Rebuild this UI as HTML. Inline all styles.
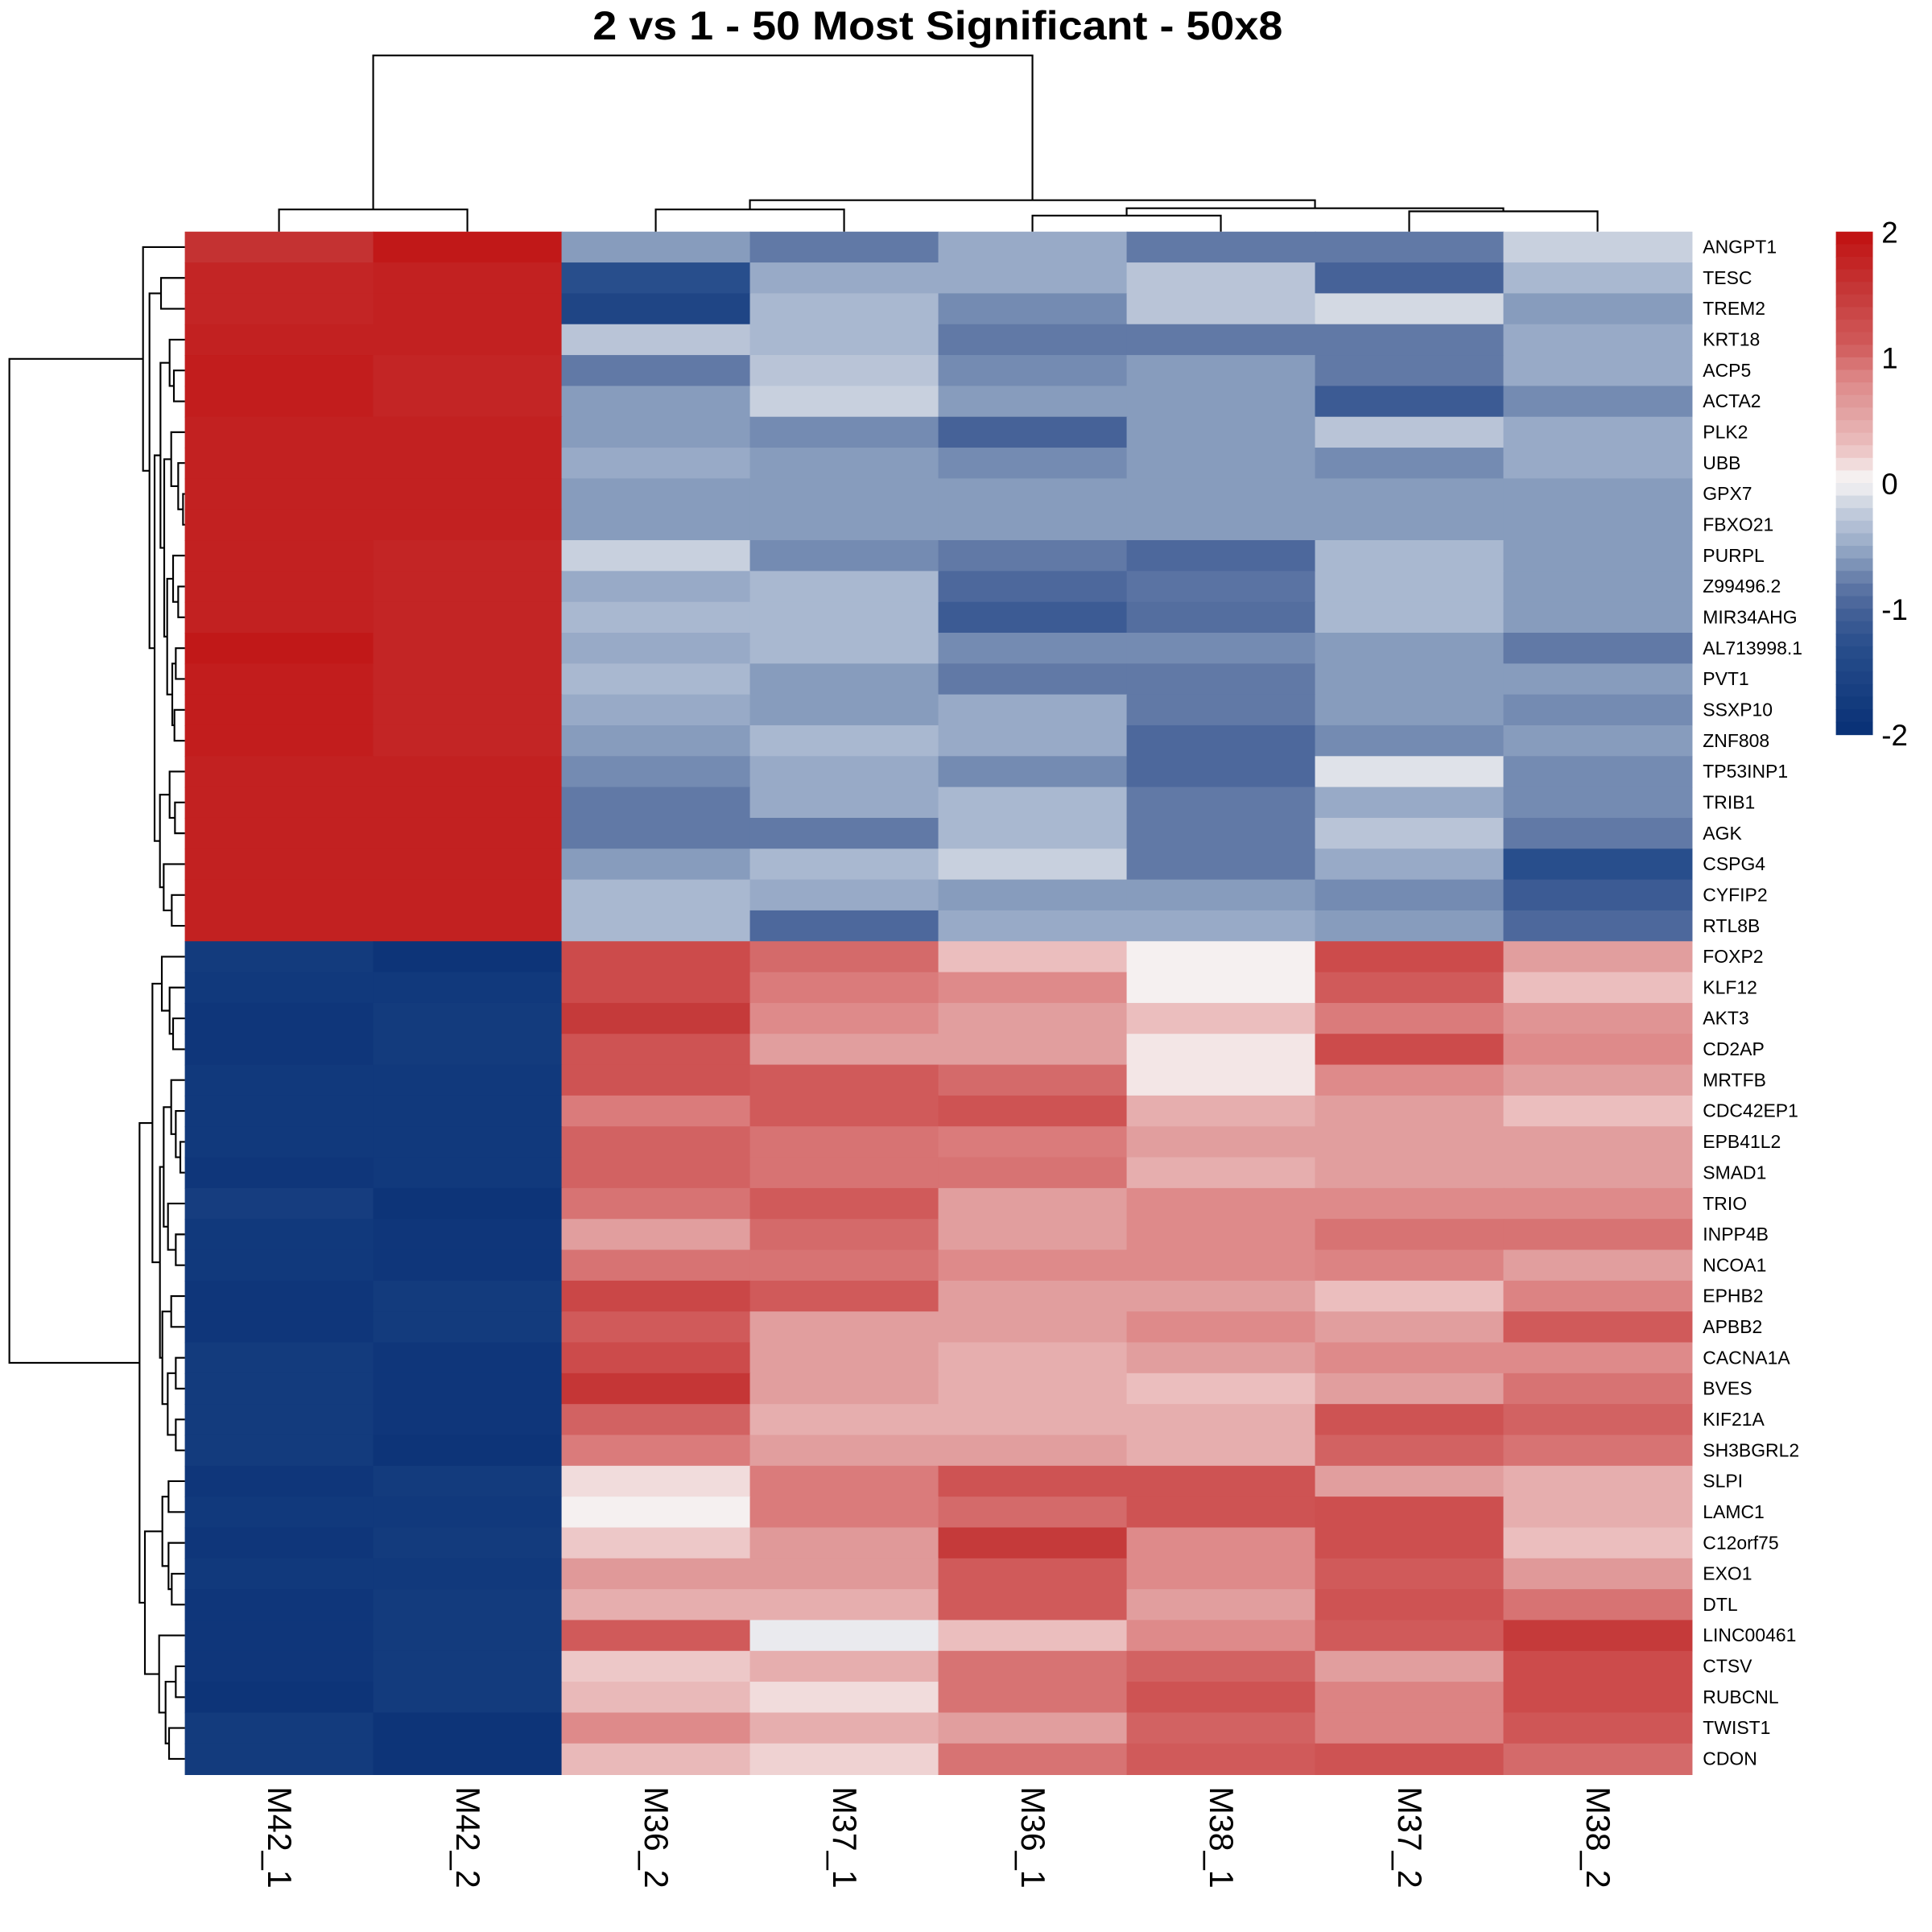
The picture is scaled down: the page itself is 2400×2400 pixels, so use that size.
<!DOCTYPE html>
<html><head><meta charset="utf-8">
<style>html,body{margin:0;padding:0;background:#fff}svg{display:block}</style>
</head><body>
<svg id="s" width="2400" height="2400" viewBox="0 0 1568 1568" xmlns="http://www.w3.org/2000/svg" font-family="Liberation Sans, Arial, sans-serif"></svg>
<script>
const rows=[
["ANGPT1",1.6,1.9,-0.6,-0.8,-0.5,-0.8,-0.8,-0.2],
["TESC",1.75,1.8,-1.3,-0.5,-0.5,-0.3,-1.0,-0.4],
["TREM2",1.75,1.8,-1.5,-0.4,-0.7,-0.3,-0.15,-0.6],
["KRT18",1.8,1.8,-0.3,-0.4,-0.8,-0.8,-0.8,-0.5],
["ACP5",1.85,1.75,-0.8,-0.3,-0.7,-0.6,-0.8,-0.5],
["ACTA2",1.85,1.75,-0.6,-0.2,-0.6,-0.6,-1.1,-0.7],
["PLK2",1.8,1.8,-0.6,-0.7,-1.0,-0.6,-0.3,-0.5],
["UBB",1.8,1.8,-0.5,-0.6,-0.7,-0.6,-0.7,-0.5],
["GPX7",1.8,1.8,-0.6,-0.6,-0.6,-0.6,-0.6,-0.6],
["FBXO21",1.8,1.8,-0.6,-0.6,-0.6,-0.6,-0.6,-0.6],
["PURPL",1.8,1.75,-0.2,-0.7,-0.8,-0.95,-0.4,-0.6],
["Z99496.2",1.8,1.75,-0.5,-0.4,-0.95,-0.85,-0.4,-0.6],
["MIR34AHG",1.8,1.75,-0.4,-0.4,-1.1,-0.9,-0.4,-0.6],
["AL713998.1",1.9,1.75,-0.5,-0.4,-0.7,-0.7,-0.6,-0.8],
["PVT1",1.85,1.75,-0.4,-0.6,-0.8,-0.8,-0.6,-0.6],
["SSXP10",1.85,1.75,-0.5,-0.6,-0.5,-0.8,-0.6,-0.7],
["ZNF808",1.85,1.75,-0.6,-0.4,-0.5,-0.95,-0.7,-0.6],
["TP53INP1",1.8,1.8,-0.7,-0.5,-0.7,-0.95,-0.1,-0.7],
["TRIB1",1.8,1.8,-0.8,-0.5,-0.4,-0.8,-0.5,-0.7],
["AGK",1.8,1.8,-0.8,-0.8,-0.4,-0.8,-0.3,-0.8],
["CSPG4",1.8,1.8,-0.6,-0.4,-0.2,-0.8,-0.5,-1.3],
["CYFIP2",1.8,1.8,-0.4,-0.5,-0.6,-0.6,-0.7,-1.1],
["RTL8B",1.8,1.8,-0.4,-0.95,-0.5,-0.5,-0.6,-0.95],
["FOXP2",-1.75,-1.9,1.3,1.0,0.3,0.05,1.3,0.6],
["KLF12",-1.8,-1.8,1.3,0.9,0.8,0.05,1.1,0.3],
["AKT3",-1.85,-1.75,1.5,0.8,0.6,0.3,0.9,0.7],
["CD2AP",-1.85,-1.75,1.2,0.6,0.6,0.1,1.3,0.8],
["MRTFB",-1.8,-1.8,1.2,1.1,1.0,0.1,0.8,0.6],
["CDC42EP1",-1.8,-1.8,0.9,1.1,1.2,0.45,0.6,0.3],
["EPB41L2",-1.8,-1.8,1.05,0.95,0.9,0.6,0.6,0.6],
["SMAD1",-1.85,-1.8,1.05,0.95,0.95,0.45,0.6,0.6],
["TRIO",-1.7,-1.9,0.95,1.1,0.6,0.8,0.8,0.8],
["INPP4B",-1.8,-1.85,0.6,1.0,0.6,0.8,0.95,0.95],
["NCOA1",-1.8,-1.85,0.95,0.95,0.8,0.8,0.85,0.6],
["EPHB2",-1.85,-1.75,1.35,1.1,0.6,0.6,0.3,0.85],
["APBB2",-1.85,-1.75,1.1,0.6,0.6,0.8,0.6,1.1],
["CACNA1A",-1.75,-1.85,1.3,0.6,0.45,0.6,0.8,0.8],
["BVES",-1.75,-1.85,1.55,0.6,0.45,0.3,0.6,0.95],
["KIF21A",-1.75,-1.85,1.05,0.45,0.45,0.45,1.2,1.05],
["SH3BGRL2",-1.75,-1.9,0.9,0.6,0.6,0.45,1.05,0.95],
["SLPI",-1.85,-1.75,0.15,0.9,1.2,1.2,0.6,0.45],
["LAMC1",-1.8,-1.8,0.05,0.9,1.0,1.2,1.25,0.45],
["C12orf75",-1.85,-1.75,0.25,0.65,1.5,0.8,1.25,0.3],
["EXO1",-1.8,-1.8,0.65,0.65,1.1,0.8,1.1,0.65],
["DTL",-1.85,-1.75,0.45,0.45,1.1,0.6,1.2,0.95],
["LINC00461",-1.85,-1.75,1.1,-0.05,0.3,0.8,1.1,1.5],
["CTSV",-1.85,-1.75,0.25,0.45,0.95,1.05,0.6,1.3],
["RUBCNL",-1.9,-1.75,0.35,0.15,0.95,1.2,0.85,1.3],
["TWIST1",-1.75,-1.9,0.8,0.45,0.6,1.05,0.85,1.15],
["CDON",-1.75,-1.9,0.35,0.2,0.95,1.1,1.2,1.0]];
const stops=[[-2,[8,48,117]],[-1.3,[40,78,140]],[-1,[70,98,152]],[-0.8,[97,121,166]],[-0.6,[135,156,189]],[-0.4,[169,184,208]],[-0.2,[200,208,222]],[0,[245,243,243]],[0.05,[245,240,240]],[0.3,[235,190,190]],[0.6,[225,158,158]],[0.8,[222,138,138]],[0.9,[218,123,123]],[1.0,[212,106,106]],[1.1,[208,90,90]],[1.3,[204,75,75]],[1.5,[197,58,58]],[2,[192,16,16]]];
function col(v){v=Math.max(-2,Math.min(2,v));for(let i=0;i<stops.length-1;i++){const[a,ca]=stops[i],[b,cb]=stops[i+1];if(v<=b){const t=(v-a)/(b-a);return`rgb(${ca.map((c,k)=>Math.round(c+(cb[k]-c)*t)).join(",")})`;}}}
const X0=150,X1=1373,Y0=188,Y1=1440,cw=(X1-X0)/8,rh=(Y1-Y0)/50;
let h='';
h+=`<text x="761" y="32" font-size="33" font-weight="bold" text-anchor="middle" textLength="560" lengthAdjust="spacingAndGlyphs">2 vs 1 - 50 Most Significant - 50x8</text>`;
rows.forEach((r,i)=>{for(let j=0;j<8;j++)h+=`<rect x="${(X0+j*cw).toFixed(2)}" y="${(Y0+i*rh).toFixed(2)}" width="${(cw+0.6).toFixed(2)}" height="${(rh+0.6).toFixed(2)}" fill="${col(r[j+1])}"/>`;
h+=`<text x="1382" y="${(Y0+i*rh+rh/2+5).toFixed(1)}" font-size="15">${r[0]}</text>`;});
const cn=["M42_1","M42_2","M36_2","M37_1","M36_1","M38_1","M37_2","M38_2"];
cn.forEach((n,j)=>{const x=X0+j*cw+cw/2;h+=`<text transform="translate(${x-9},1450) rotate(90)" font-size="27">${n}</text>`;});
const L=(p)=>`<path d="${p}" fill="none" stroke="#000" stroke-width="1.4"/>`;
const cx=j=>X0+j*cw+cw/2;
h+=L(`M${cx(0)},188V170H${cx(1)}V188`);
h+=L(`M${cx(2)},188V170H${cx(3)}V188`);
h+=L(`M${cx(4)},188V175H${cx(5)}V188`);
h+=L(`M${cx(6)},188V171.5H${cx(7)}V188`);
const m45=(cx(4)+cx(5))/2,m67=(cx(6)+cx(7))/2,m23=(cx(2)+cx(3))/2,m01=(cx(0)+cx(1))/2;
h+=L(`M${m45},175V169H${m67}V171.5`);
const m4567=(m45+m67)/2;
h+=L(`M${m23},170V162.5H${m4567}V169`);
const mr=(m23+m4567)/2;
h+=L(`M${m01},170V45H${mr}V162.5`);
const K=0.2178;
function draw(n){
 if(typeof n==='number')return[Y0+n*rh+rh/2,X0];
 const x=n[0]*K,l=draw(n[1]),r=draw(n[2]);
 h+=L(`M${l[1]},${l[0]}H${x}V${r[0]}H${r[1]}`);return[(l[0]+r[0])/2,x];}
const T=[533,0,[557,[600,1,2],[576,[598,[632,3,[648,4,5]],[612,[638,6,[664,7,[682,8,9]]],[623,[645,10,[664,11,12]],[642,[655,13,14],[650,15,16]]]]],[596,[632,17,[652,18,19]],[610,20,[640,21,22]]]]]];
const B=[520,[568,[603,23,[632,24,[645,25,26]]],[596,[610,[638,27,[655,28,[672,29,30]]],[626,31,[655,32,33]]],[605,[638,34,35],[625,[655,36,37],[655,38,39]]]]],[540,[605,[628,40,41],[628,42,[640,43,44]]],[593,45,[617,[655,46,47],[630,48,49]]]]];
const t1=draw(T),t2=draw(B);
h+=L(`M${t1[1]},${t1[0]}H7.6V${t2[0]}H${t2[1]}`);
for(let k=0;k<40;k++){const v=2-(k+0.5)*0.1;h+=`<rect x="1490" y="${(188+k*10.2).toFixed(1)}" width="30" height="10.8" fill="${col(v)}"/>`;}
[["2",197],["1",299],["0",401],["-1",503],["-2",605]].forEach(([t,y])=>h+=`<text x="1527" y="${y}" font-size="24">${t}</text>`);
document.getElementById('s').innerHTML=h;
</script>
</body></html>
